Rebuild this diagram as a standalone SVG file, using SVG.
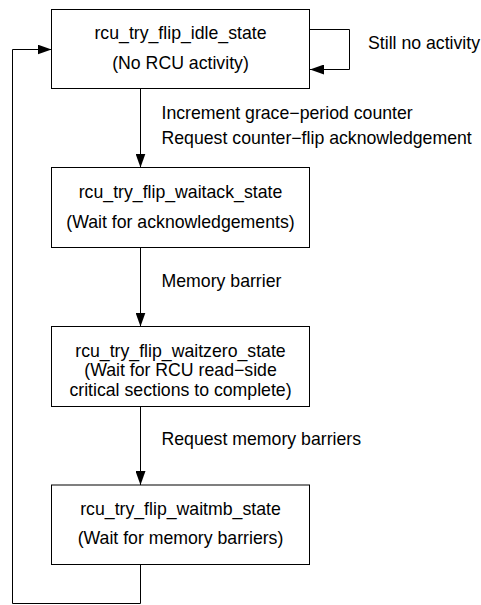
<svg xmlns="http://www.w3.org/2000/svg" width="481" height="605" viewBox="0 0 481 605">
<style>
.box{fill:#fff;stroke:#000;stroke-width:1}
.ln{fill:none;stroke:#000;stroke-width:1}
text{font-family:"Liberation Sans",Arial,sans-serif;font-size:17.7px;fill:#000}
.c{text-anchor:middle}
</style>
<defs>
<marker id="ah" markerWidth="14" markerHeight="10" refX="14" refY="5" orient="auto" markerUnits="userSpaceOnUse">
<path d="M0,0 L14,5 L0,10 Z" fill="#000"/>
</marker>
</defs>
<rect width="481" height="605" fill="#fff"/>
<g id="connectors">
<path class="ln" d="M309.5,29.5 H349.5 V69.5 H310" marker-end="url(#ah)"/>
<path class="ln" d="M140.5,88.5 V167.5" marker-end="url(#ah)"/>
<path class="ln" d="M140.5,247.5 V326.5" marker-end="url(#ah)"/>
<path class="ln" d="M140.5,406.5 V485" marker-end="url(#ah)"/>
<path class="ln" d="M140.5,564.5 V603.5 H12.5 V49.5 H51.5" marker-end="url(#ah)"/>
<text x="368" y="48.5">Still no activity</text>
<text x="161.5" y="118.5">Increment grace−period counter</text>
<text x="161.5" y="143.5">Request counter−flip acknowledgement</text>
<text x="161.5" y="286.5">Memory barrier</text>
<text x="161.5" y="445">Request memory barriers</text>
</g>
<g id="idle">
<rect class="box" x="51.5" y="9.5" width="258" height="79"/>
<text class="c" x="180.5" y="39.3">rcu_try_flip_idle_state</text>
<text class="c" x="180.5" y="68.7">(No RCU activity)</text>
</g>
<g id="waitack">
<rect class="box" x="51.5" y="167.5" width="258" height="80"/>
<text class="c" x="180.5" y="198.3">rcu_try_flip_waitack_state</text>
<text class="c" x="180.5" y="227.7">(Wait for acknowledgements)</text>
</g>
<g id="waitzero">
<rect class="box" x="51.5" y="326.5" width="258" height="80"/>
<text class="c" x="180.5" y="356.5">rcu_try_flip_waitzero_state</text>
<text class="c" x="180.5" y="376">(Wait for RCU read−side</text>
<text class="c" x="180.5" y="395.5">critical sections to complete)</text>
</g>
<g id="waitmb">
<rect class="box" x="51.5" y="485" width="258" height="79.5"/>
<text class="c" x="180.5" y="515">rcu_try_flip_waitmb_state</text>
<text class="c" x="180.5" y="544.3">(Wait for memory barriers)</text>
</g>
</svg>
